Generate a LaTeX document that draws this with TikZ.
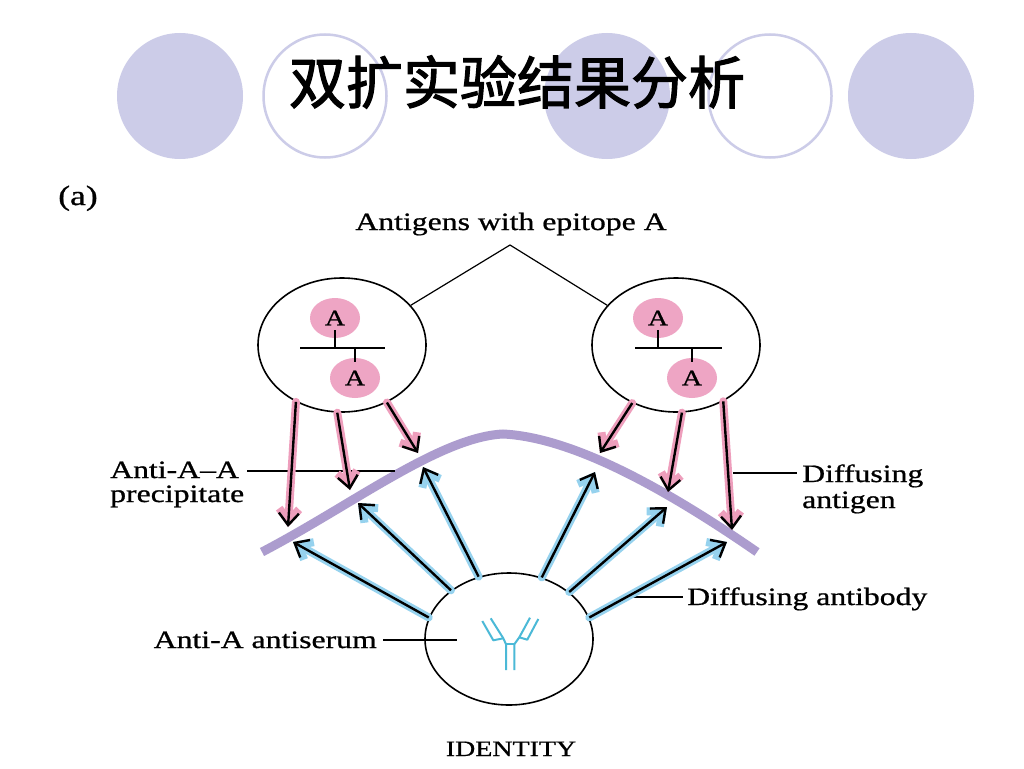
\documentclass[tikz,border=0pt]{standalone}
\usepackage{fontspec}
\setmainfont{Liberation Serif}[FakeStretch=1.27,FakeBold=0.8]
\newfontfamily\cjkfont{Noto Sans CJK SC}[FakeBold=2]
\usetikzlibrary{arrows.meta,shapes.geometric}
\definecolor{lav}{RGB}{204,204,232}
\definecolor{pinkfill}{RGB}{238,165,196}
\definecolor{pinkglow}{RGB}{238,158,188}
\definecolor{blueglow}{RGB}{150,210,238}
\definecolor{precip}{RGB}{172,156,206}
\definecolor{abcol}{RGB}{75,185,215}
\tikzset{
  tcfill/.style={circle, fill=lav, minimum size=126pt, inner sep=0pt},
  tcline/.style={circle, draw=lav, line width=2.5pt, fill=white, minimum size=123pt, inner sep=0pt},
  lab/.style={font=\fontsize{25}{28}\selectfont, inner sep=0pt},
  well/.style={ellipse, draw, line width=1.6pt, inner sep=0pt},
  epi/.style={ellipse, fill=pinkfill, minimum width=50pt, minimum height=40pt, inner sep=0pt, font=\fontsize{22}{22}\selectfont},
  leader/.style={line width=1.2pt},
  tipbarb/.tip={Straight Barb[length=12pt,width=20pt]},
  agarrow/.style={draw=black, -tipbarb, line width=2.4pt, preaction={draw=pinkglow, line width=8pt, line cap=round, line join=round, -tipbarb}},
  abarrow/.style={draw=black, -tipbarb, line width=2.4pt, preaction={draw=blueglow, line width=8pt, line cap=round, line join=round, -tipbarb}},
  ychain/.style={draw=abcol, line width=2pt, line join=round},
}
\begin{document}
\begin{tikzpicture}[x=1pt,y=-1pt]
\useasboundingbox[fill=white] (0,0) rectangle (1024,768);

% title band
\node[tcfill] (t1) at (180,96) {};
\node[tcline] (t2) at (325,96) {};
\node[tcfill] (t3) at (607,96) {};
\node[tcline] (t4) at (770,96) {};
\node[tcfill] (t5) at (911,96) {};
\node[font=\cjkfont\fontsize{57}{57}\selectfont, inner sep=0pt] (title) at (517,82) {双扩实验结果分析};

% panel label and top label
\node[lab, anchor=base, font=\fontsize{28}{28}\selectfont] (panel) at (78,205) {(a)};
\node[lab, anchor=base] (agtitle) at (511,230) {Antigens with epitope A};
\coordinate (apex) at (510,245);

% antigen wells
\node[well, minimum width=168pt, minimum height=134pt] (lw) at (342,345) {};
\node[well, minimum width=168pt, minimum height=134pt] (rw) at (676,345) {};
\draw[leader] (lw.30) -- (apex) -- (rw.150);

% left antigen
\node[epi] (le1) at (335,318) {A};
\node[epi] (le2) at (355,378) {A};
\coordinate (lb1) at (300,348);
\coordinate (lb2) at (385,348);
\draw[leader] (lb1) -- (lb2);
\draw[leader] ([yshift=8pt]le1.south) -- (le1.south |- lb1);
\draw[leader] (le2.north |- lb1) -- ([yshift=-4pt]le2.north);

% right antigen
\node[epi] (re1) at (658,318) {A};
\node[epi] (re2) at (692,378) {A};
\coordinate (rb1) at (635,348);
\coordinate (rb2) at (722,348);
\draw[leader] (rb1) -- (rb2);
\draw[leader] ([yshift=8pt]re1.south) -- (re1.south |- rb1);
\draw[leader] (re2.north |- rb1) -- ([yshift=-4pt]re2.north);

% antiserum well
\node[well, minimum width=168pt, minimum height=132pt] (abw) at (509,639) {};
% antibody symbol
\draw[ychain] (482.3,621) -- (493.3,640.3) -- (503.3,638.3);
\draw[ychain] (490.7,618.3) -- (503.3,638.3) -- (506,644.3) -- (506,670);
\draw[ychain] (530,617.7) -- (519.3,637.3) -- (514.3,644.3) -- (514.3,670);
\draw[ychain] (538.3,619) -- (527.3,639.7) -- (519.3,637.3);
\draw[ychain] (506,644.3) -- (514.3,644.3);

% precipitin line
\coordinate (cl) at (262,552);
\coordinate (cp) at (503,434);
\coordinate (cr) at (757,552);
\draw[precip, line width=9pt] (cl) .. controls (352,505) and (440,437) .. (cp) .. controls (565,437) and (650,478) .. (cr);

% labels and leaders
\node[lab, anchor=base west] (prec1) at (110,478) {Anti-A–A};
\node[lab, anchor=base west] (prec2) at (110,502) {precipitate};
\coordinate (pl1) at (247,471);
\coordinate (pl2) at (395,471);
\draw[leader] (pl1) -- (pl2);

\node[lab, anchor=base west] (dag1) at (802,482) {Diffusing};
\node[lab, anchor=base west] (dag2) at (802,508) {antigen};
\coordinate (gl1) at (733,473);
\coordinate (gl2) at (797,473);
\draw[leader] (gl1) -- (gl2);

\node[lab, anchor=base west] (dab) at (687,605) {Diffusing antibody};
\coordinate (bl1) at (628,597);
\coordinate (bl2) at (683,597);
\draw[leader] (bl1) -- (bl2);

\node[lab, anchor=base east] (anti) at (377,648) {Anti-A antiserum};
\coordinate (sl1) at (383,640);
\coordinate (sl2) at (457,640);
\draw[leader] (sl1) -- (sl2);

\node[lab, anchor=base, font=\fontsize{22}{22}\selectfont] (ident) at (511,756) {IDENTITY};

% antigen arrows
\coordinate (a1) at (288,527);
\coordinate (a2) at (350,490);
\coordinate (a3) at (418,453);
\coordinate (a4) at (600,453);
\coordinate (a5) at (668,492);
\coordinate (a6) at (732,530);
\draw[agarrow] (lw.231) -- (a1);
\draw[agarrow] (lw.266) -- (a2);
\draw[agarrow] (lw.308) -- (a3);
\draw[agarrow] (rw.233) -- (a4);
\draw[agarrow] (rw.275) -- (a5);
\draw[agarrow] (rw.310) -- (a6);

% antibody arrows
\coordinate (b1) at (293,542);
\coordinate (b2) at (358,503);
\coordinate (b3) at (423,467);
\coordinate (b4) at (595,472);
\coordinate (b5) at (667,507);
\coordinate (b6) at (727,542);
\draw[abarrow] (abw.165) -- (b1);
\draw[abarrow] (abw.140) -- (b2);
\draw[abarrow] (abw.116) -- (b3);
\draw[abarrow] (abw.62) -- (b4);
\draw[abarrow] (abw.38) -- (b5);
\draw[abarrow] (abw.15) -- (b6);
\end{tikzpicture}
\end{document}
